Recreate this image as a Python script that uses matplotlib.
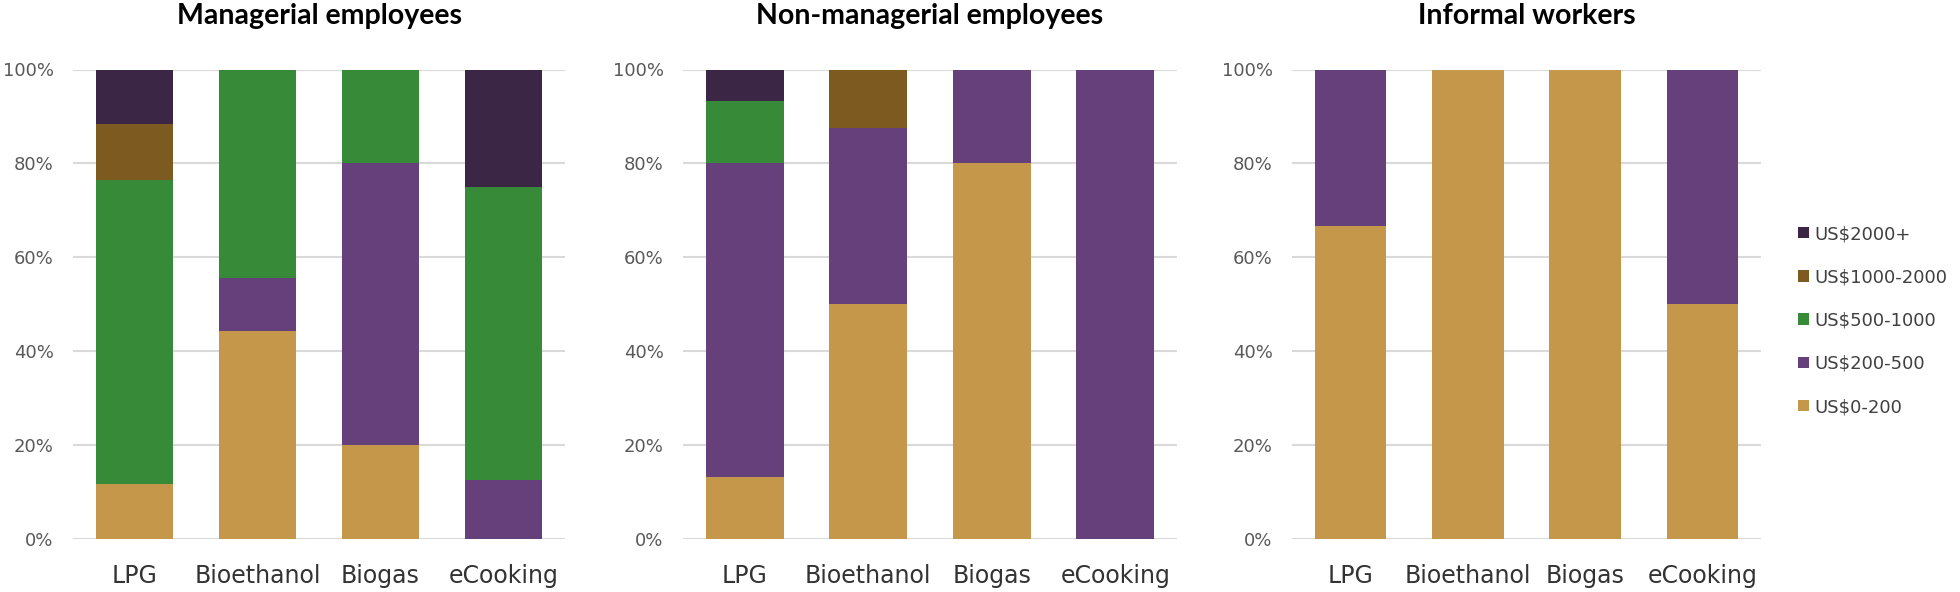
import matplotlib
matplotlib.use("Agg")
import matplotlib.pyplot as plt
from matplotlib.patches import Patch
from matplotlib.ticker import PercentFormatter

# 字体
plt.rcParams["font.family"] = ["DejaVu Sans"]

# 数据（百分比）
fuels = ["LPG", "Bioethanol", "Biogas", "eCooking"]
levels = ["US$0-200", "US$200-500", "US$500-1000", "US$1000-2000", "US$2000+"]
colors = ["#C5974A", "#66407A", "#368A38", "#7D5A20", "#3C2646"]

# Managerial employees
mgr_0_200 = [11.8, 44.4, 20.0, 0.0]
mgr_200_500 = [0.0, 11.1, 60.0, 12.5]
mgr_500_1000 = [64.7, 44.5, 20.0, 62.5]
mgr_1000_2000 = [11.8, 0.0, 0.0, 0.0]
mgr_2000_plus = [11.7, 0.0, 0.0, 25.0]

# Non-managerial employees
non_0_200 = [13.3, 50.0, 80.0, 0.0]
non_200_500 = [66.7, 37.5, 20.0, 100.0]
non_500_1000 = [13.3, 0.0, 0.0, 0.0]
non_1000_2000 = [0.0, 12.5, 0.0, 0.0]
non_2000_plus = [6.7, 0.0, 0.0, 0.0]

# Informal workers
inf_0_200 = [66.7, 100.0, 100.0, 50.0]
inf_200_500 = [33.3, 0.0, 0.0, 50.0]
inf_500_1000 = [0.0, 0.0, 0.0, 0.0]
inf_1000_2000 = [0.0, 0.0, 0.0, 0.0]
inf_2000_plus = [0.0, 0.0, 0.0, 0.0]

panels = [
    ("Managerial employees", [mgr_0_200, mgr_200_500, mgr_500_1000, mgr_1000_2000, mgr_2000_plus]),
    ("Non-managerial employees", [non_0_200, non_200_500, non_500_1000, non_1000_2000, non_2000_plus]),
    ("Informal workers", [inf_0_200, inf_200_500, inf_500_1000, inf_1000_2000, inf_2000_plus]),
]

# 画布和三个子图的位置（像素换算）
W, H = 1960, 592
fig = plt.figure(figsize=(W / 100, H / 100), dpi=100)
ax_boxes = [(73, 492), (683, 494), (1292, 469)]
bar_widths = [0.63, 0.63, 0.61]
bottom_px, top_px = 539, 69.5

for (title, series), (left_px, width_px), bw in zip(panels, ax_boxes, bar_widths):
    ax = fig.add_axes([left_px / W, 1 - bottom_px / H, width_px / W, (bottom_px - top_px) / H])
    x = range(len(fuels))
    base = [0.0] * len(fuels)
    for vals, col in zip(series, colors):
        ax.bar(x, vals, width=bw, bottom=base, color=col, zorder=3)
        base = [b + v for b, v in zip(base, vals)]
    ax.set_xlim(-0.5, len(fuels) - 0.5)
    ax.set_ylim(0, 100)
    ax.set_yticks([0, 20, 40, 60, 80, 100])
    ax.yaxis.set_major_formatter(PercentFormatter(decimals=0))
    ax.set_xticks(list(x))
    ax.set_xticklabels(fuels)
    ax.grid(axis="y", color="#D9D9D9", linewidth=1.5, zorder=0)
    ax.set_axisbelow(True)
    for s in ax.spines.values():
        s.set_visible(False)
    ax.tick_params(axis="both", length=0, colors="#595959")
    ax.tick_params(axis="x", pad=18, labelsize=17, labelcolor="#333333")
    ax.tick_params(axis="y", pad=14, labelsize=13)
    fig.text((left_px + width_px / 2) / W, 1 - 16 / H, title, ha="center", va="center",
             fontsize=20.5, fontweight="bold", color="black", family=["Lato", "DejaVu Sans"])

# 图例（从上到下：高收入到低收入）
handles = [Patch(facecolor=c, edgecolor="none") for c in colors[::-1]]
fig.legend(handles, levels[::-1], loc="upper left", bbox_to_anchor=(1798 / W, 1 - 225 / H),
           frameon=False, fontsize=13, handlelength=0.6, handleheight=0.6,
           handletextpad=0.3, labelspacing=1.4, borderpad=0, borderaxespad=0,
           labelcolor="#404040")

fig.savefig("out.png", dpi=100)
